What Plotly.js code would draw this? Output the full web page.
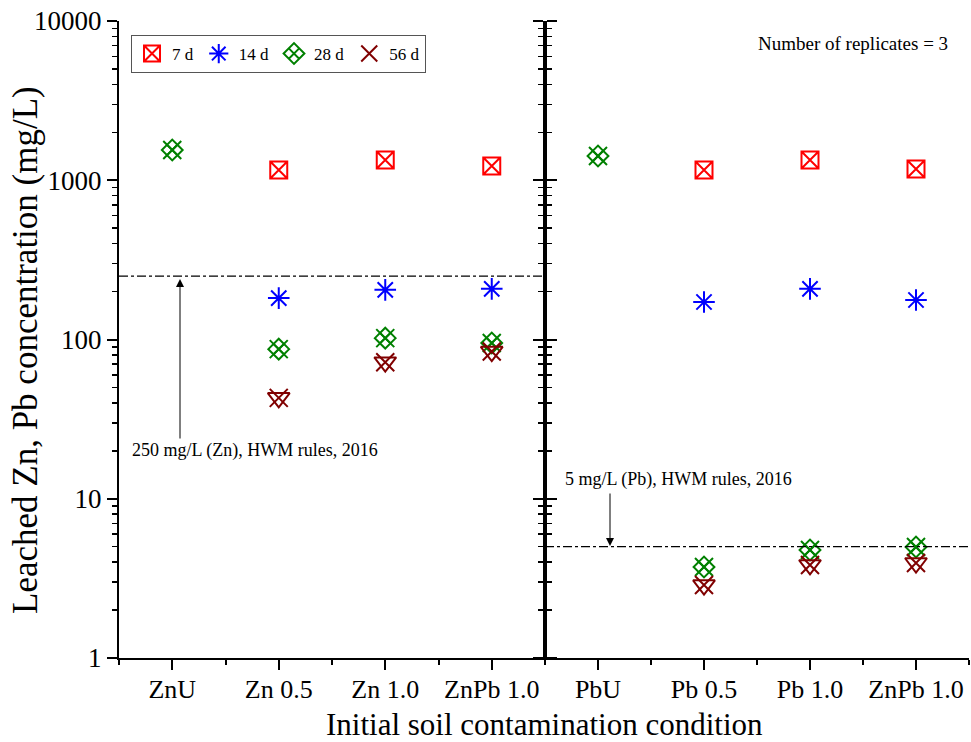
<!DOCTYPE html>
<html>
<head>
<meta charset="utf-8">
<script src="https://cdn.plot.ly/plotly-3.0.1.min.js"></script>
<style>html,body{margin:0;padding:0;background:#fff;}#chart{width:971px;height:742px;}</style>
</head>
<body>
<div id="chart"></div>
<script>
// ---- data ----
const categoriesZn = ['ZnU', 'Zn 0.5', 'Zn 1.0', 'ZnPb 1.0'];
const categoriesPb = ['PbU', 'Pb 0.5', 'Pb 1.0', 'ZnPb 1.0'];
const seriesNames = ['7 d', '14 d', '28 d', '56 d'];
const zn7d  = [null, 1160, 1340, 1228];
const zn14d = [null, 182, 205, 208];
const zn28d = [1550, 87, 102, 95];
const zn56d = [null, 43, 72, 84];
const pb7d  = [null, 1160, 1340, 1177];
const pb14d = [null, 172, 208, 177];
const pb28d = [1420, 3.73, 4.77, 4.98];
const pb56d = [null, 2.87, 3.84, 3.95];
const limitZn = 250;
const limitPb = 5;
const yTickVals = [1, 10, 100, 1000, 10000];
const yTickText = ['1', '10', '100', '1000', '10000'];

// ---- styling ----
const FONT = 'Liberation Serif';
const colors = ['#FF0000', '#0000FF', '#008000', '#800000'];
const idxZn = categoriesZn.map((c, i) => i);
const idxPb = categoriesPb.map((c, i) => i);

function mk(x, y, xa, ya, name, sym, color, size, showlegend) {
  return {
    type: 'scatter', mode: 'markers', x: x, y: y, xaxis: xa, yaxis: ya,
    name: name, legendgroup: name, showlegend: showlegend,
    marker: { symbol: sym, size: size, color: color, line: { color: color, width: 2 } },
    hoverinfo: 'y'
  };
}

const traces = [];
[[idxZn, 'x', 'y', true, [zn7d, zn14d, zn28d, zn56d]],
 [idxPb, 'x2', 'y2', false, [pb7d, pb14d, pb28d, pb56d]]].forEach(p => {
  const [xi, xa, ya, leg, s] = p;
  traces.push(mk(xi, s[0], xa, ya, seriesNames[0], 'square-x-open', colors[0], 17, leg));
  traces.push(mk(xi, s[1], xa, ya, seriesNames[1], 'asterisk-open', colors[1], 18, leg));
  traces.push(mk(xi, s[2], xa, ya, seriesNames[2], 'diamond-x-open', colors[2], 16, leg));
  traces.push(mk(xi, s[2], xa, ya, seriesNames[2], 'x-thin-open', colors[2], 18, false));
  traces.push(mk(xi, s[3], xa, ya, seriesNames[3], 'x-thin-open', colors[3], 18, leg));
  traces.push(mk(xi, s[3], xa, ya, seriesNames[3], 'triangle-down-open', colors[3], 19, false));
});

const minorLog = [];
for (let d = 0; d < 4; d++) for (let k = 2; k <= 9; k++) minorLog.push(k * Math.pow(10, d));

const split = 426 / 850;
const xBase = {
  range: [-0.5, 3.5], tickmode: 'array', ticks: 'outside', ticklen: 10, tickwidth: 2,
  tickcolor: '#000', showline: true, linewidth: 2, linecolor: '#000', showgrid: false,
  zeroline: false, tickfont: { family: FONT, size: 26, color: '#000' }, ticklabelstandoff: -3,
  minor: { tick0: 0.5, dtick: 1, ticks: 'outside', ticklen: 5, tickwidth: 2, tickcolor: '#000', showgrid: false },
  fixedrange: true
};
const yBase = {
  type: 'log', range: [0, 4], tickmode: 'array', tickvals: yTickVals, ticktext: yTickText,
  ticks: 'outside', ticklen: 10, tickwidth: 2, tickcolor: '#000', showline: true, linewidth: 2,
  linecolor: '#000', showgrid: false, zeroline: false,
  tickfont: { family: FONT, size: 27, color: '#000' },
  minor: { tickmode: 'array', tickvals: minorLog, ticks: 'outside', ticklen: 5, tickwidth: 1.5, tickcolor: '#000', showgrid: false },
  fixedrange: true
};
const topBase = {
  side: 'top', range: [0, 10], tickmode: 'linear', tick0: 0, dtick: 2, ticks: 'inside',
  ticklen: 9, tickwidth: 2, tickcolor: '#000', showticklabels: false, showline: true,
  linewidth: 2, linecolor: '#000', showgrid: false, zeroline: false,
  minor: { dtick: 1, ticks: 'inside', ticklen: 5, tickwidth: 2, tickcolor: '#000', showgrid: false },
  fixedrange: true
};

const layout = {
  width: 971, height: 742,
  margin: { l: 119, r: 2, t: 21, b: 84 },
  paper_bgcolor: '#fff', plot_bgcolor: '#fff',
  font: { family: FONT, color: '#000' },
  showlegend: true,
  xaxis: Object.assign({}, xBase, { domain: [0, split], anchor: 'y', tickvals: idxZn, ticktext: categoriesZn }),
  xaxis2: Object.assign({}, xBase, { domain: [split, 1], anchor: 'y2', tickvals: idxPb, ticktext: categoriesPb }),
  yaxis: Object.assign({}, yBase, { anchor: 'x', mirror: 'allticks' }),
  yaxis2: Object.assign({}, yBase, { anchor: 'x2', showticklabels: false }),
  xaxis3: Object.assign({}, topBase, { overlaying: 'x', anchor: 'y' }),
  xaxis4: Object.assign({}, topBase, { overlaying: 'x2', anchor: 'y2' }),
  yaxis3: Object.assign({}, topBase, { side: 'right', overlaying: 'y2', anchor: 'x2' }),
  legend: {
    orientation: 'h', x: 12 / 850, y: (658 - 35) / 637, xanchor: 'left', yanchor: 'top',
    bgcolor: '#fff', bordercolor: '#555', borderwidth: 1,
    font: { family: FONT, size: 17, color: '#000' }, traceorder: 'normal'
  },
  shapes: [
    { type: 'line', xref: 'x domain', yref: 'y', x0: 0, x1: 1, y0: limitZn, y1: limitZn,
      line: { color: '#000', width: 1.2, dash: 'dashdot' } },
    { type: 'line', xref: 'x2 domain', yref: 'y2', x0: 0, x1: 1, y0: limitPb, y1: limitPb,
      line: { color: '#000', width: 1.2, dash: 'dashdot' } }
  ],
  annotations: [
    { xref: 'paper', yref: 'paper', x: 11 / 850, y: (658 - 450) / 637, xanchor: 'left', yanchor: 'middle',
      text: limitZn + ' mg/L (Zn), HWM rules, 2016', showarrow: false, font: { family: FONT, size: 18, color: '#000' } },
    { xref: 'paper', yref: 'paper', x: 61 / 850, y: (658 - 279) / 637, text: '', showarrow: true,
      ax: 0, ay: 161, arrowhead: 2, arrowsize: 1.6, arrowwidth: 1, arrowcolor: '#000' },
    { xref: 'paper', yref: 'paper', x: 444 / 850, y: (658 - 480) / 637, xanchor: 'left', yanchor: 'middle',
      text: limitPb + ' mg/L (Pb), HWM rules, 2016', showarrow: false, font: { family: FONT, size: 18, color: '#000' } },
    { xref: 'paper', yref: 'paper', x: 491 / 850, y: (658 - 546) / 637, text: '', showarrow: true,
      ax: 0, ay: -54, arrowhead: 2, arrowsize: 1.6, arrowwidth: 1, arrowcolor: '#000' },
    { xref: 'paper', yref: 'paper', x: 831 / 850, y: (658 - 43) / 637, xanchor: 'right', yanchor: 'middle',
      text: 'Number of replicates = 3', showarrow: false, font: { family: FONT, size: 19, color: '#000' } },
    { xref: 'paper', yref: 'paper', x: 425 / 850, y: (658 - 724) / 637, xanchor: 'center', yanchor: 'middle',
      text: 'Initial soil contamination condition', showarrow: false, font: { family: FONT, size: 31, color: '#000' } },
    { xref: 'paper', yref: 'paper', x: (26 - 119) / 850, y: (658 - 350) / 637, xanchor: 'center', yanchor: 'middle',
      textangle: -90, text: 'Leached Zn, Pb concentration (mg/L)', showarrow: false,
      font: { family: FONT, size: 35, color: '#000' } }
  ]
};

Plotly.newPlot('chart', traces, layout, { displayModeBar: false, staticPlot: true });
</script>
</body>
</html>
